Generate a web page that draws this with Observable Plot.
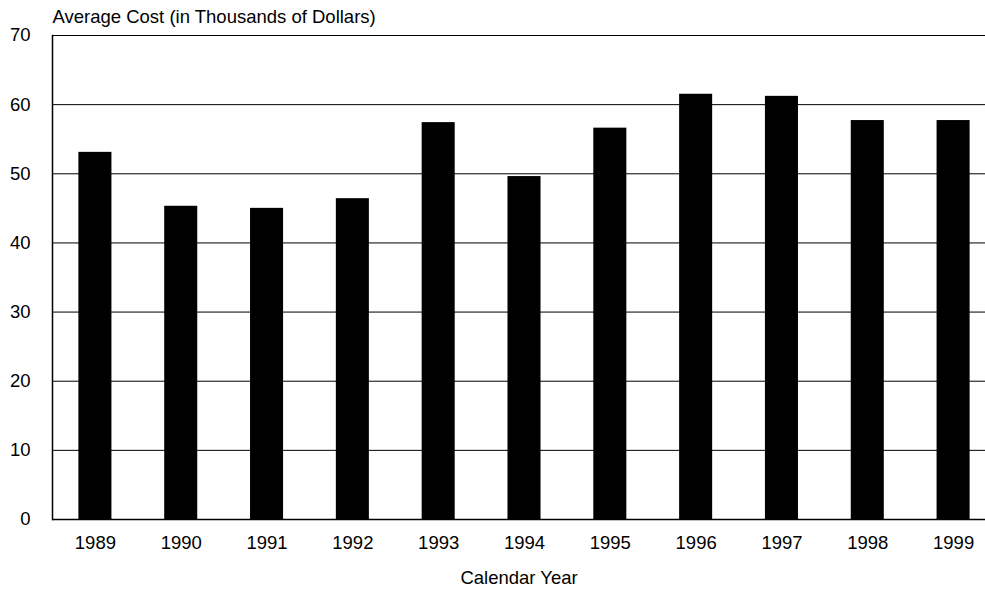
<!DOCTYPE html>
<html>
<head>
<meta charset="utf-8">
<script src="https://cdn.jsdelivr.net/npm/d3@7"></script>
<script src="https://cdn.jsdelivr.net/npm/@observablehq/plot@0.6"></script>
<style>
  html, body { margin: 0; padding: 0; background: white; overflow: hidden; }
</style>
</head>
<body>
<div id="chart"></div>
<script>
const years = ["1989", "1990", "1991", "1992", "1993", "1994", "1995", "1996", "1997", "1998", "1999"];
const costs = [53.1, 45.3, 45.0, 46.4, 57.4, 49.6, 56.6, 61.5, 61.2, 57.7, 57.7];
const yTicks = [0, 10, 20, 30, 40, 50, 60, 70];
const titleText = "Average Cost (in Thousands of Dollars)";
const xTitle = "Calendar Year";

const data = years.map((year, i) => ({ year, cost: costs[i] }));

const fs = 18.5;

const chart = Plot.plot({
  width: 985,
  height: 590,
  marginTop: 35,
  marginBottom: 71,
  marginLeft: 52,
  marginRight: 0,
  style: { fontFamily: "'Liberation Sans', Arial, sans-serif", fontSize: fs + "px", background: "white", color: "black" },
  x: { domain: years, range: [52, 996], paddingInner: 0.615, paddingOuter: 0.3075, round: false, label: null },
  y: { domain: [0, 70], ticks: yTicks, label: null },
  marks: [
    Plot.ruleY(yTicks.slice(1), { stroke: "black", strokeWidth: 1 }),
    Plot.barY(data, { x: "year", y: "cost", fill: "black" }),
    Plot.ruleY([0], { stroke: "black", strokeWidth: 1.5 }),
    Plot.frame({ anchor: "left", stroke: "black", strokeWidth: 1.5 }),
    Plot.axisY({ ticks: yTicks, tickSize: 0, tickPadding: 22, label: null, fontSize: fs }),
    Plot.axisX({ tickSize: 0, tickPadding: 16, label: null, fontSize: fs }),
    Plot.text([xTitle], { frameAnchor: "bottom", dy: 59, lineAnchor: "middle", fontSize: fs }),
    Plot.text([titleText], { frameAnchor: "top-left", textAnchor: "start", dy: -18, lineAnchor: "middle", fontSize: fs })
  ]
});

document.getElementById("chart").appendChild(chart);
</script>
</body>
</html>
